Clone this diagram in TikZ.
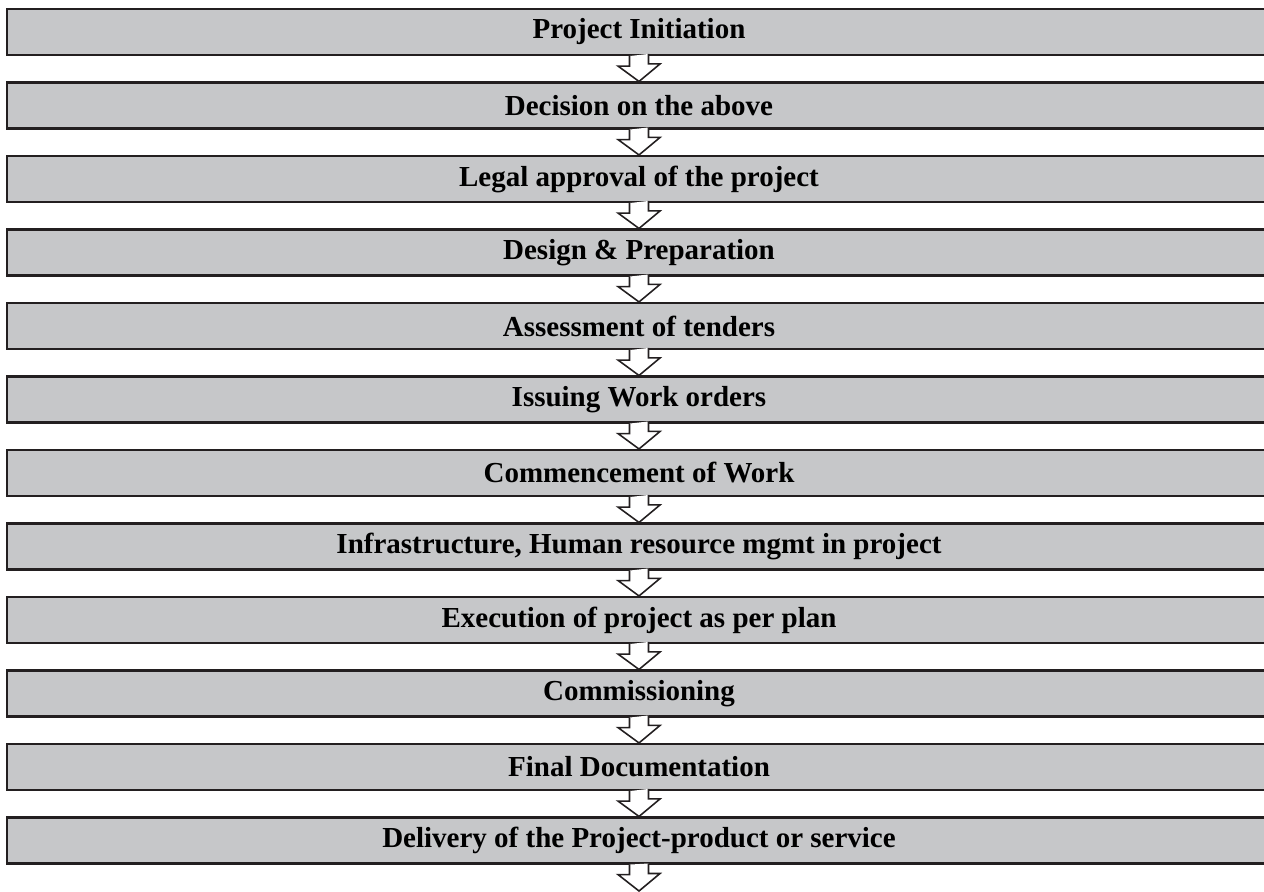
\documentclass[tikz,border=0pt]{standalone}
\usepackage{fontspec}
\setmainfont{Liberation Serif}
\definecolor{boxgray}{HTML}{C6C7C9}
\definecolor{edgegray}{HTML}{231F20}
\tikzset{
  stage/.style={draw=edgegray,line width=1.2pt,fill=boxgray,minimum width=25.28cm,
    minimum height=0.92cm,inner sep=0pt,font=\fontsize{16.5}{19}\selectfont\bfseries},
  flowarrow/.style={draw=edgegray,line width=0.9pt,fill=white,line join=miter}
}
\begin{document}
\begin{tikzpicture}
\useasboundingbox (0,0) rectangle (25.28,-17.84);
\node[stage] (b1) at (12.78,-0.64) {Project Initiation};
\node[stage] (b2) at (12.78,-2.11) {Decision on the above};
\node[stage] (b3) at (12.78,-3.58) {Legal approval of the project};
\node[stage] (b4) at (12.78,-5.05) {Design \& Preparation};
\node[stage] (b5) at (12.78,-6.52) {Assessment of tenders};
\node[stage] (b6) at (12.78,-7.99) {Issuing Work orders};
\node[stage] (b7) at (12.78,-9.46) {Commencement of Work};
\node[stage] (b8) at (12.78,-10.93) {Infrastructure, Human resource mgmt in project};
\node[stage] (b9) at (12.78,-12.40) {Execution of project as per plan};
\node[stage] (b10) at (12.78,-13.87) {Commissioning};
\node[stage] (b11) at (12.78,-15.34) {Final Documentation};
\node[stage] (b12) at (12.78,-16.81) {Delivery of the Project-product or service};
\coordinate (end) at (12.78,-17.82);
% hollow block arrows between the stages
\filldraw[flowarrow] ([xshift=-0.19cm]b1.south) -- ++(0,-0.2) -- ++(-0.23,0) -- (b2.north) -- ++(0.42,0.35) -- ++(-0.23,0) -- ++(0,0.2);
\filldraw[flowarrow] ([xshift=-0.19cm]b2.south) -- ++(0,-0.2) -- ++(-0.23,0) -- (b3.north) -- ++(0.42,0.35) -- ++(-0.23,0) -- ++(0,0.2);
\filldraw[flowarrow] ([xshift=-0.19cm]b3.south) -- ++(0,-0.2) -- ++(-0.23,0) -- (b4.north) -- ++(0.42,0.35) -- ++(-0.23,0) -- ++(0,0.2);
\filldraw[flowarrow] ([xshift=-0.19cm]b4.south) -- ++(0,-0.2) -- ++(-0.23,0) -- (b5.north) -- ++(0.42,0.35) -- ++(-0.23,0) -- ++(0,0.2);
\filldraw[flowarrow] ([xshift=-0.19cm]b5.south) -- ++(0,-0.2) -- ++(-0.23,0) -- (b6.north) -- ++(0.42,0.35) -- ++(-0.23,0) -- ++(0,0.2);
\filldraw[flowarrow] ([xshift=-0.19cm]b6.south) -- ++(0,-0.2) -- ++(-0.23,0) -- (b7.north) -- ++(0.42,0.35) -- ++(-0.23,0) -- ++(0,0.2);
\filldraw[flowarrow] ([xshift=-0.19cm]b7.south) -- ++(0,-0.2) -- ++(-0.23,0) -- (b8.north) -- ++(0.42,0.35) -- ++(-0.23,0) -- ++(0,0.2);
\filldraw[flowarrow] ([xshift=-0.19cm]b8.south) -- ++(0,-0.2) -- ++(-0.23,0) -- (b9.north) -- ++(0.42,0.35) -- ++(-0.23,0) -- ++(0,0.2);
\filldraw[flowarrow] ([xshift=-0.19cm]b9.south) -- ++(0,-0.2) -- ++(-0.23,0) -- (b10.north) -- ++(0.42,0.35) -- ++(-0.23,0) -- ++(0,0.2);
\filldraw[flowarrow] ([xshift=-0.19cm]b10.south) -- ++(0,-0.2) -- ++(-0.23,0) -- (b11.north) -- ++(0.42,0.35) -- ++(-0.23,0) -- ++(0,0.2);
\filldraw[flowarrow] ([xshift=-0.19cm]b11.south) -- ++(0,-0.2) -- ++(-0.23,0) -- (b12.north) -- ++(0.42,0.35) -- ++(-0.23,0) -- ++(0,0.2);
\filldraw[flowarrow] ([xshift=-0.19cm]b12.south) -- ++(0,-0.2) -- ++(-0.23,0) -- (end) -- ++(0.42,0.35) -- ++(-0.23,0) -- ++(0,0.2);
\end{tikzpicture}
\end{document}
